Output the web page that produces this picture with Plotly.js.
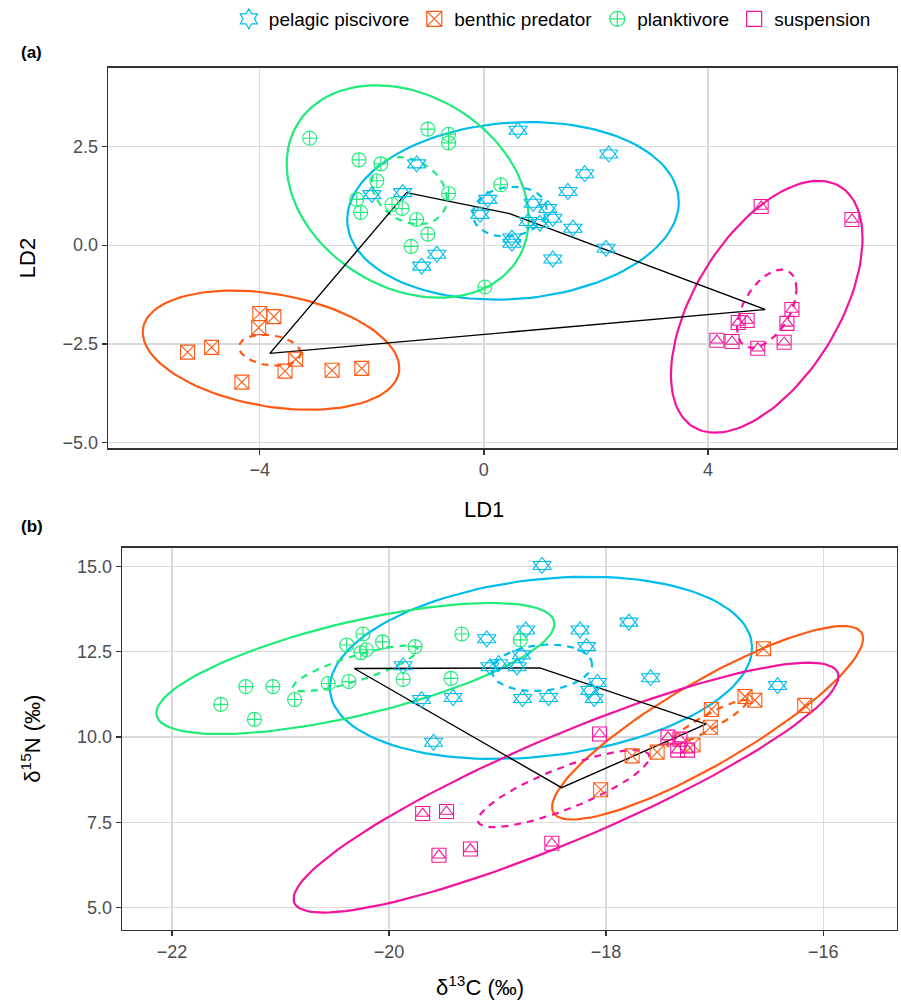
<!DOCTYPE html>
<html>
<head>
<meta charset="utf-8">
<script src="https://cdn.plot.ly/plotly-3.0.1.min.js"></script>
<style>html,body{margin:0;padding:0;background:#fff;}#chart{width:901px;height:1007px;}</style>
</head>
<body>
<div id="chart"></div>
<script>
// ---------------- DATA ----------------
const groups = ["pelagic piscivore", "benthic predator", "planktivore", "suspension"];
const groupColors = ["#00BCEB", "#FF5A14", "#1EEB78", "#F2149C"];

// Panel (a): LDA scores
const ldPelagicX = [0.61, 2.23, 1.80, 1.50, 0.07, -0.07, 0.88, 1.14, 1.23, 1.00, 0.79, 0.50, 0.50, 1.59, 2.18, 1.23, -0.84, -1.11, -1.20, -1.45, -2.00];
const ldPelagicY = [2.91, 2.31, 1.81, 1.36, 1.16, 0.78, 1.06, 0.93, 0.68, 0.55, 0.60, 0.18, 0.05, 0.43, -0.08, -0.35, -0.23, -0.53, 2.06, 1.33, 1.28];
const ldBenthicX = [-4.00, -3.75, -4.02, -4.86, -5.29, -3.36, -3.55, -4.32, -2.71, -2.18];
const ldBenthicY = [-1.73, -1.81, -2.09, -2.59, -2.71, -2.89, -3.19, -3.47, -3.17, -3.12];
const ldPlanktX = [-3.11, -2.23, -1.84, -1.91, -2.27, -2.20, -1.64, -1.46, -1.20, -1.00, -1.30, -1.00, -0.63, -0.63, -0.63, 0.30, 0.02];
const ldPlanktY = [2.71, 2.16, 2.06, 1.63, 1.16, 0.83, 1.03, 0.93, 0.65, 0.28, -0.03, 2.94, 2.81, 2.59, 1.31, 1.53, -1.06];
const ldSuspX = [4.95, 6.57, 5.50, 5.41, 4.54, 4.70, 4.16, 4.43, 4.89, 5.36];
const ldSuspY = [0.98, 0.65, -1.63, -1.98, -1.96, -1.91, -2.41, -2.44, -2.61, -2.46];

// Panel (a): group centroids (hull) and ellipse parameters (per group, order = groups)
const ldCentX = [0.46, -3.82, -1.38, 5.02];
const ldCentY = [0.80, -2.74, 1.33, -1.63];
const ldHullOrder = [2, 0, 3, 1];
const ldEllCx = [0.52, -3.80, -1.36, 5.05];
const ldEllCy = [0.87, -2.66, 1.36, -1.56];
const ldEllSx = [2.96, 2.29, 2.16, 1.71];
const ldEllSy = [2.25, 1.51, 2.69, 3.19];
const ldEllR  = [0.10, -0.30, -0.26, 0.54];
const ldSmCx = [0.46, -3.82, -1.33, 5.05];
const ldSmCy = [0.85, -2.66, 1.38, -1.61];
const ldSmSx = [0.66, 0.55, 0.67, 0.53];
const ldSmSy = [0.63, 0.39, 0.85, 0.99];
const ldSmR  = [0.10, -0.20, -0.25, 0.50];

// Panel (b): stable isotopes
const isoPelagicX = [-18.59, -19.10, -18.74, -18.24, -18.18, -17.79, -19.87, -19.07, -18.99, -18.82, -18.78, -19.70, -19.41, -18.77, -18.53, -18.15, -18.08, -17.59, -16.42, -19.59, -18.11];
const isoPelagicY = [15.03, 12.88, 13.14, 13.14, 12.65, 13.37, 12.09, 12.06, 12.15, 12.06, 12.41, 11.10, 11.16, 11.13, 11.16, 11.37, 11.60, 11.74, 11.51, 9.85, 11.13];
const isoBenthicX = [-16.55, -16.72, -16.63, -16.17, -17.03, -17.04, -17.20, -17.53, -17.76, -18.05];
const isoBenthicY = [12.59, 11.19, 11.08, 10.93, 10.81, 10.29, 9.77, 9.56, 9.45, 8.46];
const isoPlanktX = [-21.55, -21.32, -21.07, -21.24, -20.87, -20.56, -20.37, -20.39, -20.24, -20.21, -20.26, -20.06, -19.76, -19.87, -19.43, -19.33, -18.79];
const isoPlanktY = [10.96, 11.48, 11.48, 10.52, 11.10, 11.57, 11.63, 12.70, 13.02, 12.56, 12.47, 12.79, 12.65, 11.69, 11.72, 13.02, 12.85];
const isoSuspX = [-18.06, -19.69, -19.47, -19.54, -19.25, -18.50, -17.43, -17.32, -17.34, -17.25];
const isoSuspY = [10.09, 7.76, 7.82, 6.54, 6.72, 6.89, 10.00, 9.94, 9.62, 9.62];

const isoCentX = [-18.61, -17.08, -20.32, -18.41];
const isoCentY = [12.03, 10.38, 12.01, 8.52];
const isoHullOrder = [2, 0, 1, 3];
const isoEllCx = [-18.60, -17.065, -20.31, -18.37];
const isoEllCy = [12.03, 10.42, 12.01, 8.52];
const isoEllSx = [1.945, 1.433, 1.834, 2.51];
const isoEllSy = [2.67, 2.834, 1.92, 3.66];
const isoEllR  = [0.22, 0.87, 0.68, 0.89];
const isoSmCx = [-18.59, -17.07, -20.31, -18.39];
const isoSmCy = [12.03, 10.41, 12.01, 8.49];
const isoSmSx = [0.46, 0.37, 0.575, 0.79];
const isoSmSy = [0.68, 0.68, 0.67, 1.13];
const isoSmR  = [0.15, 0.93, 0.82, 0.82];

// ---------------- BUILD ----------------
const FONT = "'Liberation Sans', Arial, Helvetica, sans-serif";
const traces = [];

function ellipse(cx, cy, sx, sy, r) {
  const xs = [], ys = [], n = 120, q = Math.sqrt(1 - r * r);
  for (let i = 0; i <= n; i++) {
    const t = 2 * Math.PI * i / n;
    xs.push(cx + sx * Math.cos(t));
    ys.push(cy + sy * (r * Math.cos(t) + q * Math.sin(t)));
  }
  return [xs, ys];
}

function addEllipses(ax, ay, Cx, Cy, Sx, Sy, R, dash) {
  for (let g = 0; g < groups.length; g++) {
    const [xs, ys] = ellipse(Cx[g], Cy[g], Sx[g], Sy[g], R[g]);
    traces.push({x: xs, y: ys, xaxis: ax, yaxis: ay, mode: 'lines', showlegend: false, hoverinfo: 'skip',
      line: {color: groupColors[g], width: 2.2, dash: dash}});
  }
}

function addHull(ax, ay, CX, CY, order) {
  const hx = order.map(i => CX[i]); hx.push(CX[order[0]]);
  const hy = order.map(i => CY[i]); hy.push(CY[order[0]]);
  traces.push({x: hx, y: hy, xaxis: ax, yaxis: ay, mode: 'lines', showlegend: false, hoverinfo: 'skip',
    line: {color: '#000', width: 1.4}});
}

function addPoints(ax, ay, sets) {
  const c = groupColors;
  const mk = (x, y, sym, size, col, name) => ({x, y, xaxis: ax, yaxis: ay, mode: 'markers', showlegend: false, name: name,
    marker: {symbol: sym, size: size, color: col, line: {color: col, width: 1.1}}});
  // pelagic: star of David = triangle up + triangle down
  traces.push(mk(sets[0][0], sets[0][1], 'triangle-up-open', 16, c[0], groups[0]));
  traces.push(mk(sets[0][0], sets[0][1], 'triangle-down-open', 16, c[0], groups[0]));
  traces.push(mk(sets[1][0], sets[1][1], 'square-x-open', 14, c[1], groups[1]));
  traces.push(mk(sets[2][0], sets[2][1], 'circle-cross-open', 14, c[2], groups[2]));
  // suspension: square with triangle
  traces.push(mk(sets[3][0], sets[3][1], 'square-open', 14, c[3], groups[3]));
  traces.push(mk(sets[3][0], sets[3][1], 'triangle-up-open', 11, c[3], groups[3]));
}

addEllipses('x', 'y', ldEllCx, ldEllCy, ldEllSx, ldEllSy, ldEllR, 'solid');
addEllipses('x', 'y', ldSmCx, ldSmCy, ldSmSx, ldSmSy, ldSmR, '7px,6px');
addHull('x', 'y', ldCentX, ldCentY, ldHullOrder);
addPoints('x', 'y', [[ldPelagicX, ldPelagicY], [ldBenthicX, ldBenthicY], [ldPlanktX, ldPlanktY], [ldSuspX, ldSuspY]]);

addEllipses('x2', 'y2', isoEllCx, isoEllCy, isoEllSx, isoEllSy, isoEllR, 'solid');
addEllipses('x2', 'y2', isoSmCx, isoSmCy, isoSmSx, isoSmSy, isoSmR, '7px,6px');
addHull('x2', 'y2', isoCentX, isoCentY, isoHullOrder);
addPoints('x2', 'y2', [[isoPelagicX, isoPelagicY], [isoBenthicX, isoBenthicY], [isoPlanktX, isoPlanktY], [isoSuspX, isoSuspY]]);

// legend entries
const legendSymbols = ['hexagram-open', 'square-x-open', 'circle-cross-open', 'square-open'];
groups.forEach((g, i) => {
  traces.push({x: [null], y: [null], xaxis: 'x', yaxis: 'y', mode: 'markers', name: g, showlegend: true,
    marker: {symbol: legendSymbols[i], size: 15, color: groupColors[i], line: {color: groupColors[i], width: 1.2}}});
});

const W = 901, H = 1007;
const axisCommon = {
  showgrid: true, gridcolor: '#DADADA', gridwidth: 1.3, zeroline: false,
  showline: true, linecolor: '#333333', linewidth: 1.3, mirror: true,
  ticks: 'outside', ticklen: 5, tickwidth: 1.3, tickcolor: '#333333',
  tickfont: {family: FONT, size: 18, color: '#4D4D4D'},
  automargin: false
};
const titleFont = {family: FONT, size: 22, color: '#000'};

const layout = {
  width: W, height: H,
  margin: {l: 0, r: 0, t: 0, b: 0},
  paper_bgcolor: '#fff', plot_bgcolor: '#fff',
  font: {family: FONT},
  showlegend: true,
  legend: {orientation: 'h', x: 0.613, xanchor: 'center', y: 1.008, yanchor: 'top',
    font: {family: FONT, size: 19, color: '#000'}, itemwidth: 30, tracegroupgap: 0,
    bgcolor: 'rgba(0,0,0,0)'},
  xaxis: Object.assign({}, axisCommon, {
    domain: [108 / W, 897 / W], anchor: 'y', range: [-6.71, 7.375],
    tickvals: [-4, 0, 4], ticktext: ['\u22124', '0', '4']
  }),
  yaxis: Object.assign({}, axisCommon, {
    domain: [1 - 444 / H, 1 - 60 / H], anchor: 'x', range: [-5.15, 4.5],
    tickvals: [-5, -2.5, 0, 2.5], ticktext: ['\u22125.0', '\u22122.5', '0.0', '2.5'],
    title: {text: 'LD2', font: titleFont, standoff: 20}
  }),
  xaxis2: Object.assign({}, axisCommon, {
    domain: [122 / W, 897 / W], anchor: 'y2', range: [-22.46, -15.32],
    tickvals: [-22, -20, -18, -16], ticktext: ['\u221222', '\u221220', '\u221218', '\u221216']
  }),
  yaxis2: Object.assign({}, axisCommon, {
    domain: [1 - 929 / H, 1 - 544 / H], anchor: 'x2', range: [4.36, 15.55],
    tickvals: [5, 7.5, 10, 12.5, 15], ticktext: ['5.0', '7.5', '10.0', '12.5', '15.0'],
    title: {text: '\u03b4<sup>15</sup>N (\u2030)', font: titleFont, standoff: 30}
  }),
  annotations: [
    {text: 'LD1', xref: 'paper', yref: 'paper', x: 484 / W, y: 1 - 506 / H, xanchor: 'center', yanchor: 'middle',
      showarrow: false, font: titleFont},
    {text: '\u03b4<sup>13</sup>C (\u2030)', xref: 'paper', yref: 'paper', x: 480 / W, y: 1 - 986 / H, xanchor: 'center', yanchor: 'middle',
      showarrow: false, font: titleFont},
    {text: '<b>(a)</b>', xref: 'paper', yref: 'paper', x: 19 / W, y: 1 - 45 / H, xanchor: 'left', yanchor: 'middle',
      showarrow: false, font: {family: FONT, size: 17, color: '#000'}},
    {text: '<b>(b)</b>', xref: 'paper', yref: 'paper', x: 19 / W, y: 1 - 523 / H, xanchor: 'left', yanchor: 'middle',
      showarrow: false, font: {family: FONT, size: 17, color: '#000'}}
  ]
};

Plotly.newPlot('chart', traces, layout, {displayModeBar: false, staticPlot: true});
</script>
</body>
</html>
